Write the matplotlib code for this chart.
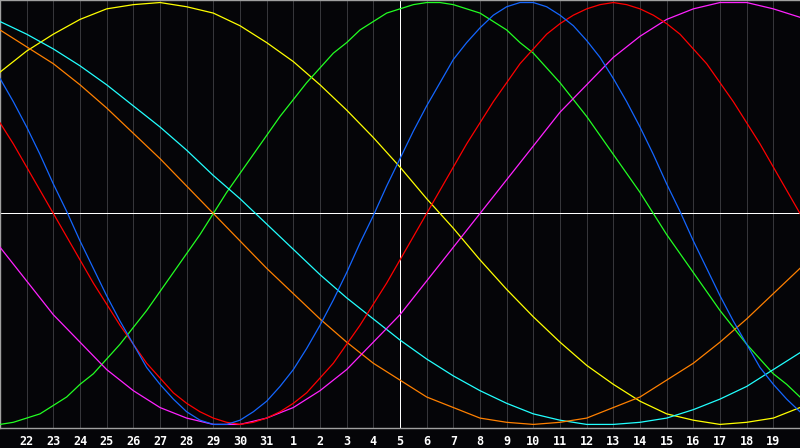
import numpy as np
import matplotlib
matplotlib.use("Agg")
import matplotlib.pyplot as plt

# day labels along the bottom (index 0 = 21st, index 30 = 20th, both unlabelled)
days = [22, 23, 24, 25, 26, 27, 28, 29, 30, 31,
        1, 2, 3, 4, 5, 6, 7, 8, 9, 10, 11, 12, 13, 14, 15, 16, 17, 18, 19]
today_idx = 15

# slow cycles: percent, one value per day, index 0..30
yellow = [67, 77, 85, 92, 97, 99, 100, 98, 95, 89, 81, 72, 61, 49, 36, 22,
          7, -7, -22, -36, -49, -61, -72, -81, -89, -95, -98, -100, -99, -97, -92]
magenta = [-16, -32, -48, -61, -74, -84, -92, -97, -100, -100, -97, -92, -84, -74, -61, -48,
           -32, -16, 0, 16, 32, 48, 61, 74, 84, 92, 97, 100, 100, 97, 93]
cyan = [91, 85, 78, 70, 61, 51, 41, 30, 18, 7, -5, -17, -29, -40, -50, -60,
        -69, -77, -84, -90, -95, -98, -100, -100, -99, -97, -93, -88, -82, -74, -66]
orange = [87, 79, 71, 61, 50, 38, 26, 13, 0, -13, -26, -38, -50, -61, -71, -79,
          -87, -92, -97, -99, -100, -99, -97, -92, -87, -79, -71, -61, -50, -38, -26]

# faster cycles: percent, read every half day, index 0, 0.5, ..., 30
green = [-100, -99, -97, -95, -91, -87, -81, -76, -69, -62, -54, -46, -37, -28, -19, -10,
         0, 10, 19, 28, 37, 46, 54, 62, 69, 76, 81, 87, 91, 95, 97, 99,
         100, 100, 99, 97, 95, 91, 87, 81, 76, 69, 62, 54, 46, 37, 28, 19,
         10, 0, -10, -19, -28, -37, -46, -54, -62, -69, -76, -81, -87]
blue = [64, 53, 41, 28, 14, 1, -13, -26, -39, -51, -62, -73, -81, -88, -94, -98,
        -100, -100, -98, -94, -89, -82, -74, -64, -53, -41, -28, -14, -1, 13, 26, 39,
        51, 62, 73, 81, 88, 94, 98, 100, 100, 98, 94, 89, 82, 74, 64, 53,
        41, 28, 14, 1, -13, -26, -39, -51, -62, -73, -81, -88, -94]
red = [43, 33, 22, 11, 0, -11, -22, -33, -43, -53, -62, -71, -78, -85, -90, -94,
       -97, -99, -100, -99, -97, -94, -90, -85, -78, -71, -62, -53, -43, -33, -22, -11,
       0, 11, 22, 33, 43, 53, 62, 71, 78, 85, 90, 94, 97, 99, 100, 99,
       97, 94, 90, 85, 78, 71, 62, 53, 43, 33, 22, 11, 0]

day_x = np.arange(31)
half_x = np.arange(61) / 2

series = [
    (day_x, yellow, "#ffff00"),
    (half_x, green, "#22ff22"),
    (day_x, cyan, "#22ffff"),
    (day_x, orange, "#ff8000"),
    (day_x, magenta, "#ff22ff"),
    (half_x, red, "#ff0000"),
    (half_x, blue, "#1466ff"),
]

fig = plt.figure(figsize=(8, 4.48), dpi=100)
fig.patch.set_facecolor("#050508")
ax = fig.add_axes([0, 20 / 448, 1, 428 / 448])
ax.set_facecolor("#050508")

for i in range(1, 30):
    ax.axvline(i, color="#36363a", lw=0.72, zorder=1, antialiased=False)
ax.axhline(0, color="white", lw=0.72, zorder=2, antialiased=False)
ax.axvline(today_idx, color="white", lw=0.72, zorder=2, antialiased=False)

for xs, vals, col in series:
    ax.plot(xs, vals, color=col, lw=0.9, zorder=3, solid_joinstyle="round")

ax.set_xlim(0, 30)
ax.set_ylim(-101.7, 101.2)
ax.set_xticks(range(1, 30))
ax.set_xticklabels([str(d) for d in days], color="white",
                   fontsize=8.5, fontweight="bold", family="DejaVu Sans Mono")
ax.tick_params(axis="x", length=0, pad=5)
ax.set_yticks([])
for side in ["top", "left", "bottom"]:
    ax.spines[side].set_color("#a0a0a0")
    ax.spines[side].set_linewidth(1.0)
ax.spines["right"].set_visible(False)

fig.savefig("out.png", dpi=100, facecolor=fig.get_facecolor())
